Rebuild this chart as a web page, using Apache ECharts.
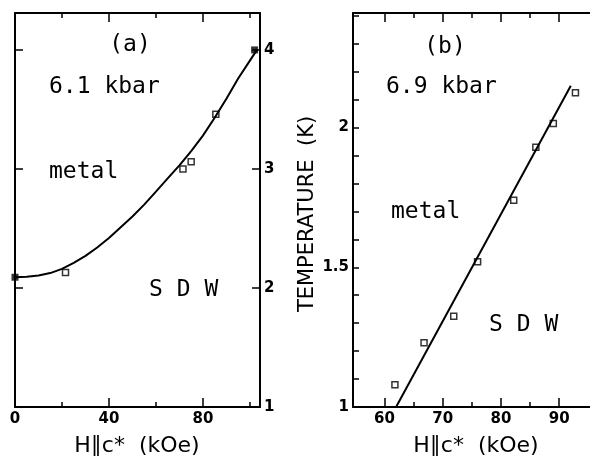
<!DOCTYPE html>
<html><head><meta charset="utf-8">
<script src="https://cdn.jsdelivr.net/npm/echarts@6/dist/echarts.min.js"></script>
<style>html,body{margin:0;padding:0;background:#fff}#c{width:590px;height:456px}</style>
</head><body><div id="c"></div>
<script>
// ---- Panel (a): 6.1 kbar ----
const openSquaresA = [[21.5, 2.13], [71.5, 3.0], [75, 3.06], [85.5, 3.46]];
const filledSquaresA = [[0, 2.09], [102, 4.0]];
const curveA = [[0, 2.09], [5, 2.095], [10, 2.105], [15, 2.125], [20, 2.16], [25, 2.21], [30, 2.27], [35, 2.34],
  [40, 2.42], [45, 2.51], [50, 2.60], [55, 2.70], [60, 2.81], [65, 2.92], [70, 3.03], [75, 3.15], [80, 3.28],
  [85, 3.43], [90, 3.59], [95, 3.76], [100, 3.91], [103, 4.0]];
const xMajorA = [0, 40, 80];
const xMinorA = [20, 60, 100];
const yTicksA = [2, 3, 4];
const yLabelsA = [1, 2, 3, 4];
// ---- Panel (b): 6.9 kbar ----
const openSquaresB = [[61.8, 1.08], [66.8, 1.23], [71.9, 1.325], [76, 1.52], [82.2, 1.74], [86, 1.93], [89, 2.015], [92.8, 2.125]];
const lineB = [[62, 1.0], [92, 2.15]];
const xMajorB = [60, 70, 80, 90];
const xMinorB = [65, 75, 85];
const yLabelsB = [1, 1.5, 2];
const yTicksB = [1.1, 1.2, 1.3, 1.4, 1.5, 1.6, 1.7, 1.8, 1.9, 2.0, 2.1, 2.2, 2.3, 2.4];
const xTitle = 'H\u2225c*  (kOe)';
const yTitle = 'TEMPERATURE  (K)';

const BLACK = '#000';
const mono = 'DejaVu Sans Mono';
const lbl = {color: BLACK, fontFamily: 'DejaVu Sans', fontWeight: 'bold', fontSize: 15};

function xAx(grid, min, max, pos, ticks, len, labels, line) {
  return {
    type: 'value', gridIndex: grid, min: min, max: max, position: pos,
    splitLine: {show: false},
    axisLine: {show: line, onZero: false, lineStyle: {color: BLACK, width: 2}},
    axisTick: {show: true, inside: true, length: len, customValues: ticks, lineStyle: {color: BLACK, width: 1.5}},
    axisLabel: labels ? Object.assign({show: true, customValues: labels, margin: 5}, lbl) : {show: false}
  };
}
function yAx(grid, min, max, pos, ticks, len, labels, line) {
  return {
    type: 'value', gridIndex: grid, min: min, max: max, position: pos,
    splitLine: {show: false},
    axisLine: {show: line, onZero: false, lineStyle: {color: BLACK, width: 2}},
    axisTick: {show: true, inside: true, length: len, customValues: ticks, lineStyle: {color: BLACK, width: 1.5}},
    axisLabel: labels ? Object.assign({show: true, customValues: labels, margin: 4, formatter: v => String(v)}, lbl) : {show: false}
  };
}

const chart = echarts.init(document.getElementById('c'), null, {renderer: 'canvas'});
const t = (text, x, y, size, align, fam) => ({
  type: 'text', x: x, y: y,
  style: {text: text, fill: BLACK, font: size + 'px "' + (fam || mono) + '"', textAlign: align, textVerticalAlign: 'middle'}
});

chart.setOption({
  backgroundColor: '#fff',
  animation: false,
  grid: [
    {left: 15, top: 13, width: 245, height: 394},
    {left: 353, top: 13, width: 247, height: 394}
  ],
  xAxis: [
    xAx(0, 0, 104.3, 'bottom', xMajorA, 9, xMajorA, true),
    xAx(0, 0, 104.3, 'bottom', xMinorA, 5, null, false),
    xAx(0, 0, 104.3, 'top', xMajorA, 9, null, true),
    xAx(0, 0, 104.3, 'top', xMinorA, 5, null, false),
    xAx(1, 54.6, 95.3, 'bottom', xMajorB, 9, xMajorB, true),
    xAx(1, 54.6, 95.3, 'bottom', xMinorB, 5, null, false),
    xAx(1, 54.6, 95.3, 'top', xMajorB, 9, null, true),
    xAx(1, 54.6, 95.3, 'top', xMinorB, 5, null, false)
  ],
  yAxis: [
    yAx(0, 1, 4.31, 'left', yTicksA, 8, null, true),
    yAx(0, 1, 4.31, 'right', yTicksA, 8, yLabelsA, true),
    yAx(1, 1, 2.41, 'left', yTicksB, 6, yLabelsB, true)
  ],
  series: [
    {type: 'line', xAxisIndex: 0, yAxisIndex: 0, data: curveA, smooth: false, showSymbol: false, lineStyle: {color: BLACK, width: 2, join: 'round'}, silent: true},
    {type: 'scatter', xAxisIndex: 0, yAxisIndex: 0, data: openSquaresA, symbol: 'rect', symbolSize: 6, clip: false,
     itemStyle: {color: '#fff', borderColor: BLACK, borderWidth: 1.5}},
    {type: 'scatter', xAxisIndex: 0, yAxisIndex: 0, data: filledSquaresA, symbol: 'rect', symbolSize: 7, clip: false,
     itemStyle: {color: BLACK}},
    {type: 'line', xAxisIndex: 4, yAxisIndex: 2, data: lineB, showSymbol: false, lineStyle: {color: BLACK, width: 2}, silent: true},
    {type: 'scatter', xAxisIndex: 4, yAxisIndex: 2, data: openSquaresB, symbol: 'rect', symbolSize: 6, clip: false,
     itemStyle: {color: '#fff', borderColor: BLACK, borderWidth: 1.5}}
  ],
  graphic: [
    t('(a)', 130, 45, 23, 'center'),
    t('6.1 kbar', 49, 87, 23, 'left'),
    t('metal', 49, 172, 23, 'left'),
    t('S D W', 149, 290, 23, 'left'),
    t(xTitle, 137, 446, 22, 'center', 'DejaVu Sans'),
    t('(b)', 445, 47, 23, 'center'),
    t('6.9 kbar', 386, 87, 23, 'left'),
    t('metal', 391, 212, 23, 'left'),
    t('S D W', 489, 325, 23, 'left'),
    t(xTitle, 476, 446, 22, 'center', 'DejaVu Sans'),
    {type: 'text', x: 308, y: 214, rotation: Math.PI / 2,
     style: {text: yTitle, fill: BLACK, font: '21px "DejaVu Sans"', textAlign: 'center', textVerticalAlign: 'middle'}}
  ]
});
</script>
</body></html>
